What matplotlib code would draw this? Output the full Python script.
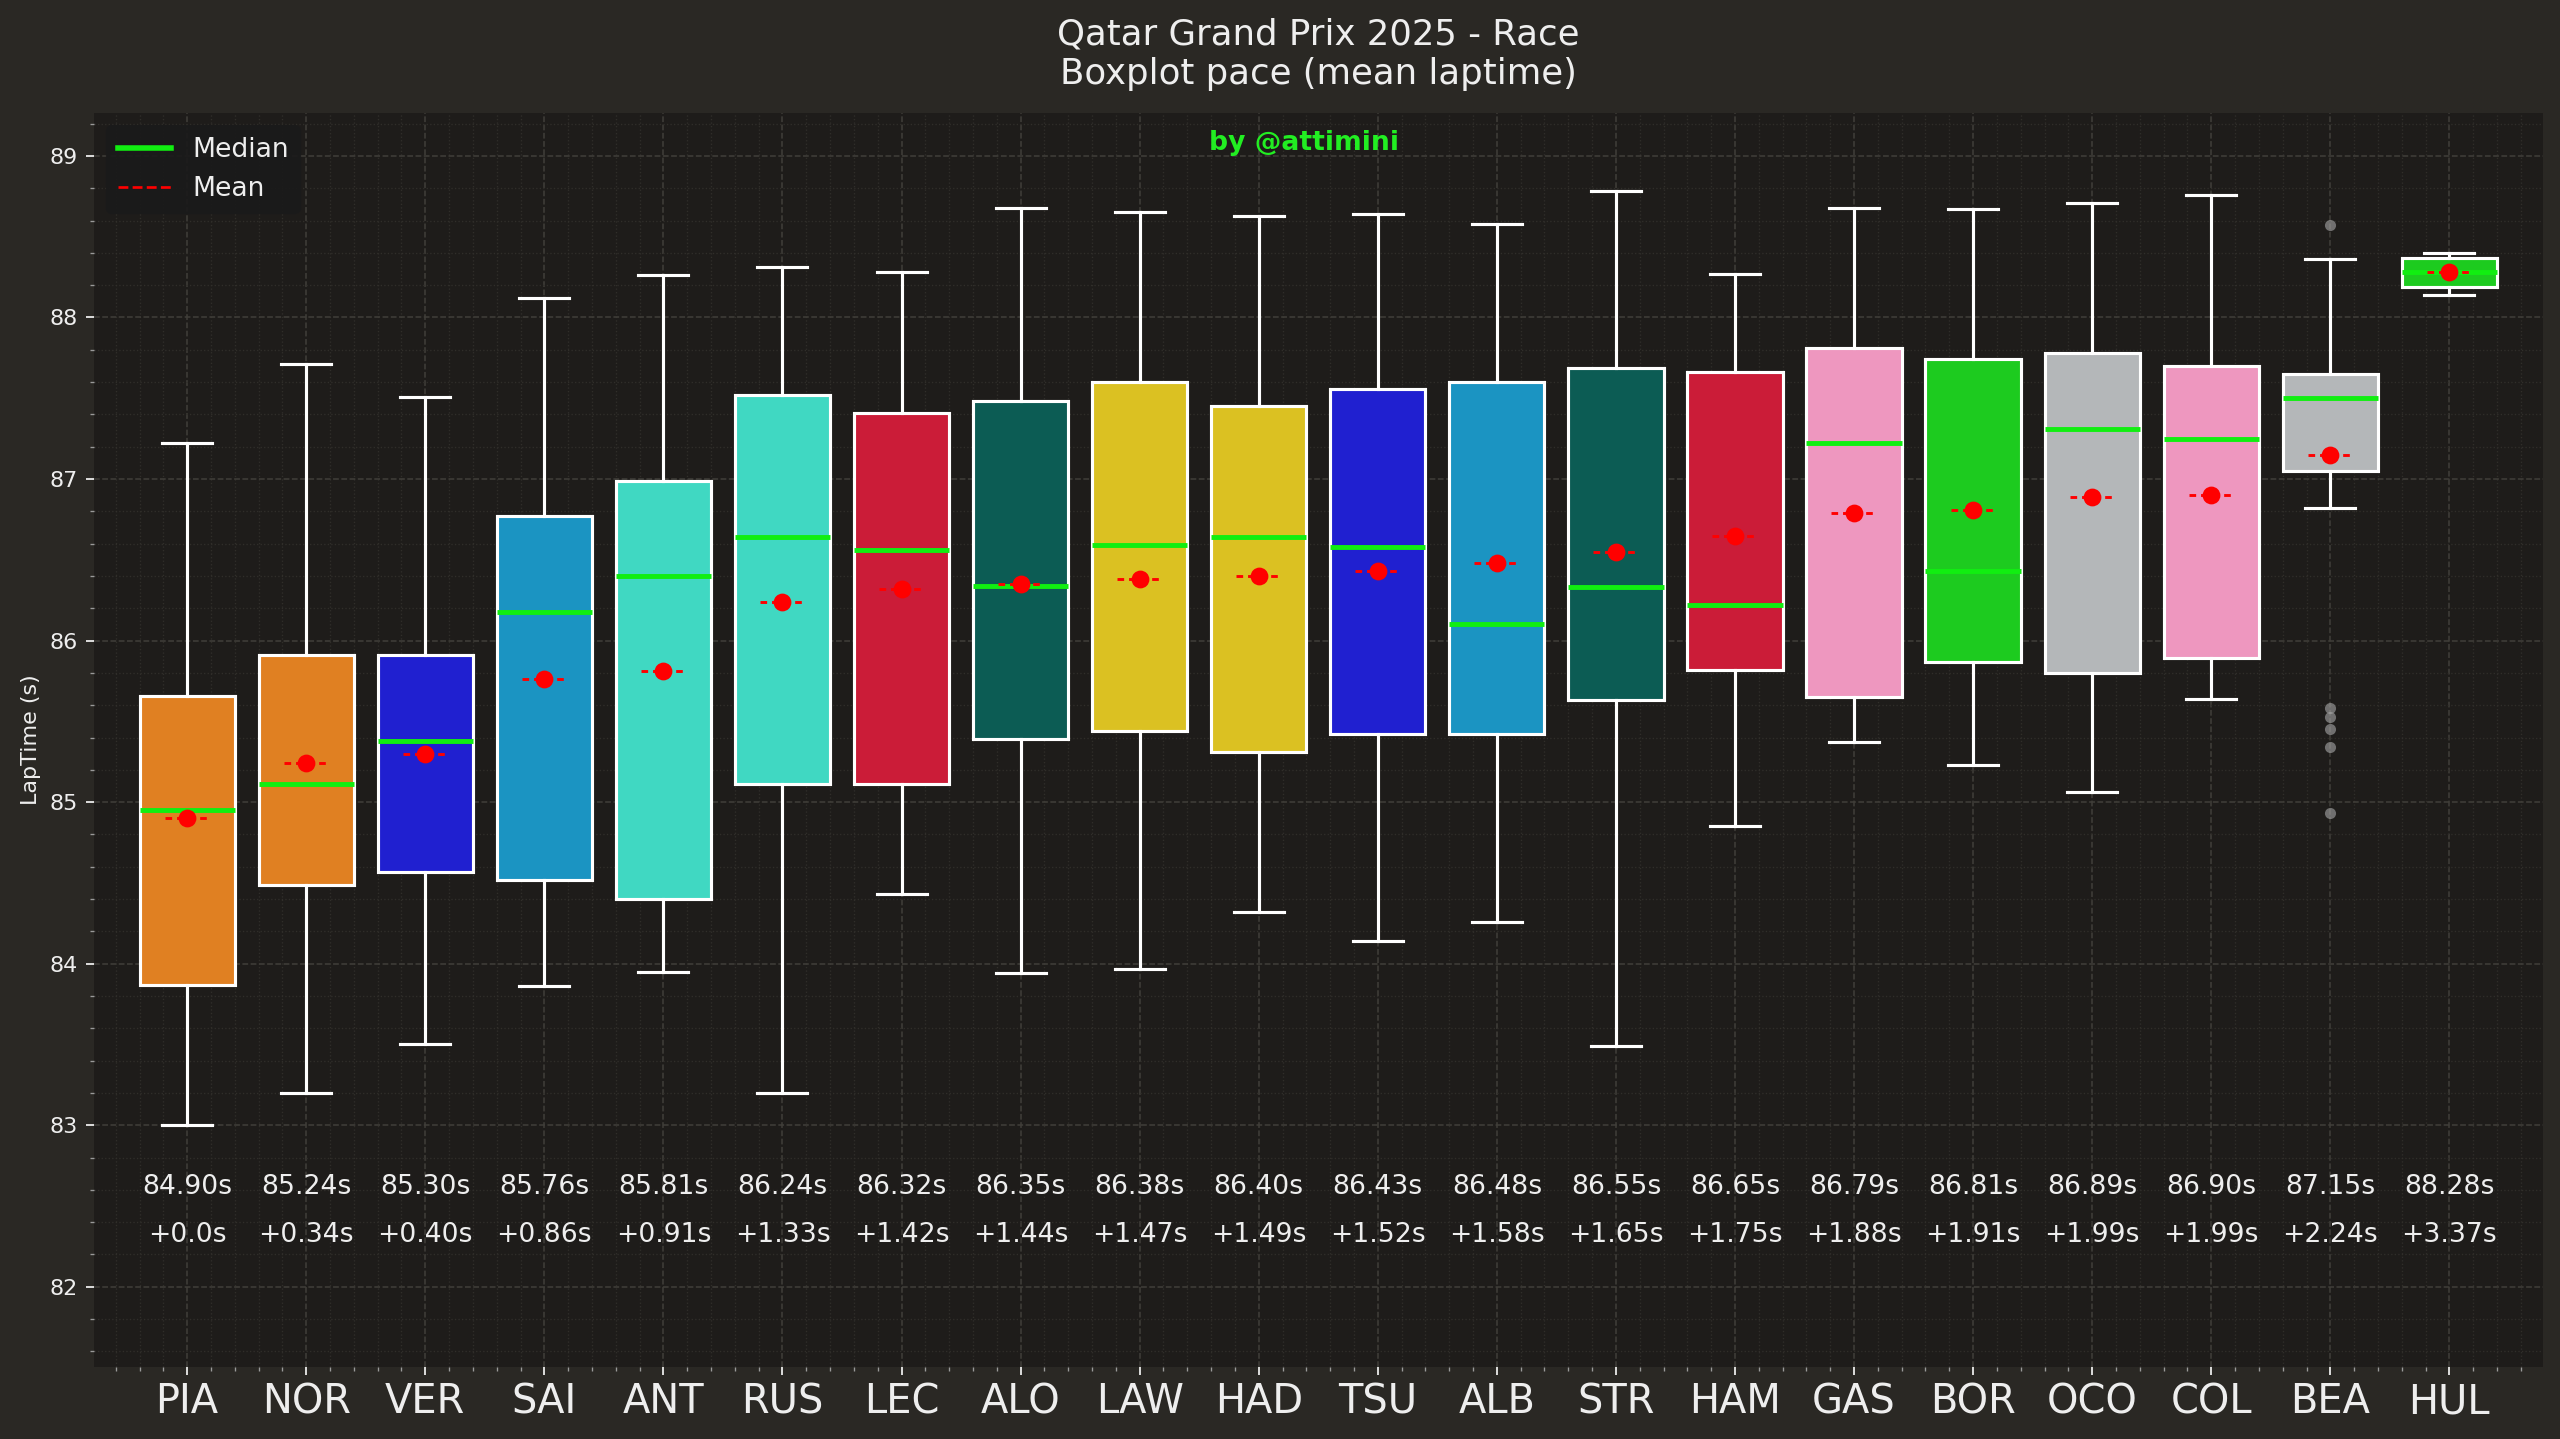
import numpy as np
import matplotlib.pyplot as plt
from matplotlib.lines import Line2D
from matplotlib.ticker import AutoMinorLocator

drivers = ['PIA', 'NOR', 'VER', 'SAI', 'ANT', 'RUS', 'LEC', 'ALO', 'LAW', 'HAD',
           'TSU', 'ALB', 'STR', 'HAM', 'GAS', 'BOR', 'OCO', 'COL', 'BEA', 'HUL']
box_colors = ['#e08022', '#e08022', '#2020d0', '#1b94c2', '#40d8c2', '#40d8c2',
              '#cb1c38', '#0c5c54', '#dbc122', '#dbc122', '#2020d0', '#1b94c2',
              '#0c5c54', '#cb1c38', '#ee97bf', '#1dcb1f', '#b4b7b9', '#ee97bf',
              '#b4b7b9', '#1dcb1f']

whislo = [83.00, 83.20, 83.50, 83.86, 83.95, 83.20, 84.43, 83.94, 83.97, 84.32,
          84.14, 84.26, 83.49, 84.85, 85.37, 85.23, 85.06, 85.64, 86.82, 88.14]
q1 = [83.87, 84.49, 84.57, 84.52, 84.40, 85.11, 85.11, 85.39, 85.44, 85.31,
      85.42, 85.42, 85.63, 85.82, 85.65, 85.87, 85.80, 85.89, 87.05, 88.19]
medians = [84.95, 85.11, 85.38, 86.18, 86.40, 86.64, 86.56, 86.34, 86.59, 86.64,
           86.58, 86.10, 86.33, 86.22, 87.22, 86.43, 87.31, 87.25, 87.50, 88.28]
q3 = [85.66, 85.91, 85.91, 86.77, 86.99, 87.52, 87.41, 87.48, 87.60, 87.45,
      87.56, 87.60, 87.69, 87.66, 87.81, 87.74, 87.78, 87.70, 87.65, 88.37]
whishi = [87.22, 87.71, 87.51, 88.12, 88.26, 88.31, 88.28, 88.68, 88.65, 88.63,
          88.64, 88.58, 88.78, 88.27, 88.68, 88.67, 88.71, 88.76, 88.36, 88.40]
means = [84.90, 85.24, 85.30, 85.76, 85.81, 86.24, 86.32, 86.35, 86.38, 86.40,
         86.43, 86.48, 86.55, 86.65, 86.79, 86.81, 86.89, 86.90, 87.15, 88.28]
deltas = [0.0, 0.34, 0.40, 0.86, 0.91, 1.33, 1.42, 1.44, 1.47, 1.49,
          1.52, 1.58, 1.65, 1.75, 1.88, 1.91, 1.99, 1.99, 2.24, 3.37]
fliers = {'BEA': [88.57, 85.58, 85.53, 85.45, 85.34, 84.93]}

fig_bg = '#2a2824'
ax_bg = '#1e1c1a'
txt = '#eeeeee'

fig = plt.figure(figsize=(16, 8.99375), dpi=160, facecolor=fig_bg)
ax = fig.add_axes([0.0366, 0.0502, 0.9567, 0.8713])
ax.set_facecolor(ax_bg)

stats = []
for i, d in enumerate(drivers):
    stats.append({'label': d, 'whislo': whislo[i], 'q1': q1[i], 'med': medians[i],
                  'q3': q3[i], 'whishi': whishi[i], 'mean': means[i],
                  'fliers': fliers.get(d, [])})

pos = np.arange(len(drivers))
bp = ax.bxp(stats, positions=pos, widths=0.8, patch_artist=True, showmeans=False,
            boxprops=dict(edgecolor='white', linewidth=1.4),
            whiskerprops=dict(color='white', linewidth=1.4),
            capprops=dict(color='white', linewidth=1.4),
            capwidths=0.42,
            medianprops=dict(color='#11ee11', linewidth=2.2),
            flierprops=dict(marker='o', markerfacecolor='#a8a8a8', markeredgecolor='none',
                            markersize=5, alpha=0.6))
for patch, c in zip(bp['boxes'], box_colors):
    patch.set_facecolor(c)

# mean markers
ax.hlines(means, pos - 0.19, pos + 0.19, colors='red', linestyles=(0, (2.3, 1.7)),
          linewidth=1.3, zorder=4)
ax.plot(pos, means, 'o', color='red', markersize=7, zorder=5)

# mean / gap annotations
for i in range(len(drivers)):
    ax.text(pos[i], 82.62, f"{means[i]:.2f}s", ha='center', va='center', color=txt, fontsize=12)
    dlabel = "+0.0s" if deltas[i] == 0 else f"+{deltas[i]:.2f}s"
    ax.text(pos[i], 82.32, dlabel, ha='center', va='center', color=txt, fontsize=12)

ax.set_xlim(-0.785, 19.785)
ax.set_ylim(81.505, 89.266)
ax.set_xticks(pos)
ax.set_xticklabels(drivers, fontsize=18, color=txt)
ax.xaxis.set_minor_locator(AutoMinorLocator(5))
ax.yaxis.set_minor_locator(AutoMinorLocator(5))
ax.tick_params(axis='y', labelsize=10, colors=txt, which='both')
ax.tick_params(axis='x', colors=txt, which='both')
ax.tick_params(which='minor', color='#9a9a9a')
ax.set_ylabel('LapTime (s)', color=txt, fontsize=10)
for s in ax.spines.values():
    s.set_visible(False)

ax.grid(which='major', linestyle='--', color='#403e39', linewidth=0.7)
ax.grid(which='minor', linestyle=':', color='#302e2a', linewidth=0.6)
ax.set_axisbelow(True)

ax.set_title('Qatar Grand Prix 2025 - Race\nBoxplot pace (mean laptime)',
             color=txt, fontsize=16, pad=13)
ax.text(0.494, 0.976, 'by @attimini', transform=ax.transAxes, ha='center', va='center',
        color='#22ee22', fontsize=12, fontweight='bold')

handles = [Line2D([0], [0], color='#11ee11', linewidth=2.5, label='Median'),
           Line2D([0], [0], color='red', linestyle='--', linewidth=1.2, label='Mean')]
leg = ax.legend(handles=handles, loc='upper left', fontsize=12, facecolor='#1a1a1a',
                edgecolor='#1a1a1a', framealpha=0.9, labelcolor=txt)

fig.savefig('out.png', dpi=160, facecolor=fig_bg)
